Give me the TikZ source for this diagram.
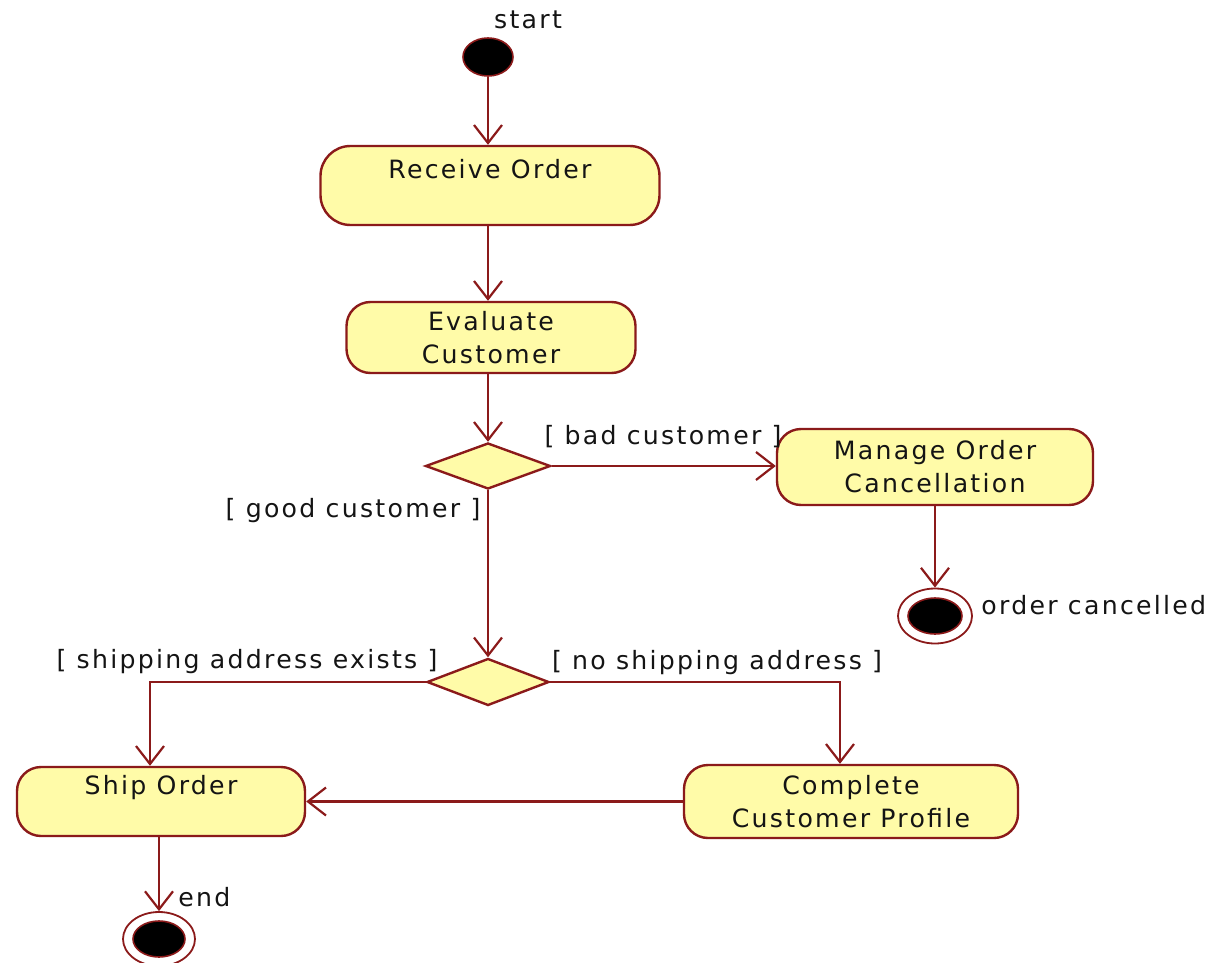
\documentclass[tikz,border=0pt]{standalone}
\usepackage{fontspec}
\usetikzlibrary{shapes.geometric,arrows.meta,calc}
\newfontfamily\umlfont[LetterSpace=9]{DejaVu Sans}
\definecolor{umlred}{RGB}{139,26,26}
\definecolor{umlfill}{RGB}{255,251,168}
\definecolor{umltxt}{RGB}{20,20,20}
\tikzset{
  umlline/.style={draw=umlred, line width=1.2pt},
  arr/.style={umlline, -{Straight Barb[length=9pt,width=14pt,line width=1.1pt]}},
  act/.style={draw=umlred, line width=1.2pt, fill=umlfill, rounded corners=12pt,
    align=center, inner sep=0pt, text=umltxt,
    font=\umlfont\fontsize{12.6}{16.5}\selectfont},
  dec/.style={diamond, draw=umlred, line width=1.2pt, fill=umlfill, inner sep=0pt},
  dotnode/.style={ellipse, draw=umlred, line width=0.8pt, fill=black, inner sep=0pt},
  ring/.style={ellipse, draw=umlred, line width=0.9pt, fill=white, inner sep=0pt},
  lbl/.style={inner sep=0pt, text=umltxt, font=\umlfont\fontsize{12.6}{16.5}\selectfont}
}
\begin{document}
\begin{tikzpicture}[x=0.5pt,y=-0.5pt]
\useasboundingbox (0,0) rectangle (1210,963);
% nodes
\node[dotnode, minimum width=25pt, minimum height=19pt] (start) at (488,57) {};
\node[lbl] (startlbl) at (528,20) {start};
\node[act, rounded corners=15pt, minimum width=169.5pt, minimum height=39.5pt] (recv) at (490,185.5) {Receive Order\\\mbox{}};
\node[act, minimum width=144.5pt, minimum height=35.5pt] (eval) at (491,337.5) {Evaluate\\Customer};
\node[dec, minimum width=62.5pt, minimum height=23pt] (d1) at (488,466) {};
\node[act, minimum width=158pt, minimum height=38pt] (manage) at (935,467) {Manage Order\\Cancellation};
\node[ring, minimum width=37pt, minimum height=27.5pt] (endA) at (935,616) {};
\node[dotnode, minimum width=27pt, minimum height=18pt] (endAin) at (935,616) {};
\node[lbl, anchor=west] (endAlbl) at (981,605) {order cancelled};
\node[dec, minimum width=61pt, minimum height=23.5pt] (d2) at (488,682) {};
\node[act, minimum width=144pt, minimum height=34.5pt] (ship) at (161,801.5) {Ship Order\\\mbox{}};
\node[act, minimum width=167pt, minimum height=36.5pt] (comp) at (851,801.5) {Complete\\Customer Profile};
\node[ring, minimum width=36pt, minimum height=27pt] (endB) at (159,939) {};
\node[dotnode, minimum width=26pt, minimum height=18pt] (endBin) at (159,939) {};
\node[lbl, anchor=west] (endBlbl) at (178,897) {end};
% guard labels
\node[lbl] (gbad) at (663,437) {[ bad customer ]};
\node[lbl] (ggood) at (353,511) {[ good customer ]};
\node[lbl] (gship) at (247,662) {[ shipping address exists ]};
\node[lbl] (gnoship) at (717,663) {[ no shipping address ]};
% connectors
\draw[arr] (start.south) -- (start.south |- recv.north);
\draw[arr] (recv.south -| d1.north) -- (d1.north |- eval.north);
\draw[arr] (eval.south -| d1.north) -- (d1.north);
\draw[arr] (d1.east) -- (d1.east -| manage.west);
\draw[arr] (manage.south) -- (endA.north);
\draw[arr] (d1.south) -- (d2.north);
\draw[arr] (d2.west) -| ([xshift=-5.5pt]ship.north);
\draw[arr] (d2.east) -| ([xshift=-5.5pt]comp.north);
\draw[arr] (comp.west) -- (comp.west -| ship.east);
\draw[arr] (ship.south -| endB.north) -- (endB.north);
\end{tikzpicture}
\end{document}
